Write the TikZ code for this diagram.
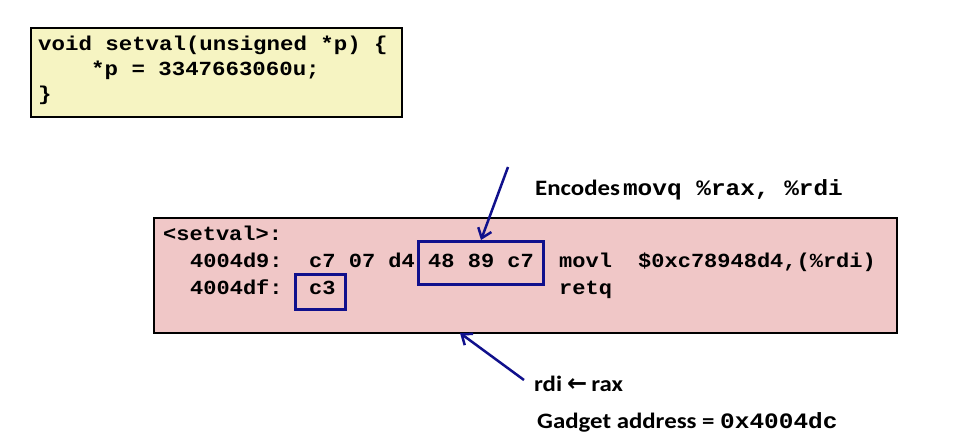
\documentclass[tikz,border=0pt]{standalone}
\usepackage{fontspec}
\usetikzlibrary{arrows.meta}
\newfontfamily\cmono{Liberation Mono}[FakeStretch=1.12]
\newfontfamily\pmono{Liberation Mono}[FakeStretch=1.1]
\newfontfamily\lmono{Liberation Mono}[FakeStretch=1.11]
\newfontfamily\lab{Carlito}[FakeStretch=1.13]
\newfontfamily\arw{DejaVu Sans}
\definecolor{codeyellow}{RGB}{246,244,194}
\definecolor{codepink}{RGB}{240,199,199}
\definecolor{navy}{RGB}{16,16,140}
\tikzset{
  codebox/.style={draw=black, line width=2pt, anchor=north west, inner sep=0pt},
  hilite/.style={draw=navy, line width=3pt, anchor=north west, inner sep=0pt},
  ctext/.style={anchor=base west, inner sep=0pt, font=\cmono\bfseries\fontsize{20}{24}\selectfont},
  ptext/.style={anchor=base west, inner sep=0pt, font=\pmono\bfseries\fontsize{20}{24}\selectfont},
  ltext/.style={anchor=base west, inner sep=0pt, font=\lab\bfseries\fontsize{22}{26}\selectfont},
  pointer/.style={draw=navy, line width=2.5pt, -{Straight Barb[length=9pt,width=14pt,line width=2.5pt]}},
}
\begin{document}
\begin{tikzpicture}[x=1pt,y=-1pt]
\fill[white] (0,0) rectangle (962,444);
\useasboundingbox (0,0) rectangle (962,444);
% C code box
\node[codebox, fill=codeyellow, minimum width=371pt, minimum height=89pt] (cbox) at (30,27) {};
\node[ctext] (c1) at (38,50.5) {void setval(unsigned *p) \{};
\node[ctext] (c2) at (91,76) {*p = 3347663060u;};
\node[ctext] (c3) at (38,101) {\}};
% disassembly box
\node[codebox, fill=codepink, minimum width=743pt, minimum height=115pt] (dbox) at (153,217) {};
\node[ptext] (d0) at (163,240) {<setval>:};
\node[ptext] (a1) at (190,267) {4004d9:};
\node[ptext] (b1) at (309,267) {c7 07 d4};
\node[ptext] (g1) at (428,267) {48 89 c7};
\node[ptext] (m1) at (559,267) {movl};
\node[ptext] (o1) at (638,267) {\$0xc78948d4,(\%rdi)};
\node[ptext] (a2) at (190,294) {4004df:};
\node[ptext] (b2) at (309,294) {c3};
\node[ptext] (m2) at (559,294) {retq};
% highlight boxes
\node[hilite, minimum width=125pt, minimum height=43pt] (hl1) at (417,240) {};
\node[hilite, minimum width=50pt, minimum height=35pt] (hl2) at (294,273) {};
% labels
\node[ltext] (enc) at (535,195) {Encodes\hspace{3pt}{\lmono\fontsize{22}{26}\selectfont movq \%rax, \%rdi}};
\node[ltext] (rr) at (534,391) {rdi\hspace{5pt}{\arw\bfseries\fontsize{24}{28}\selectfont ←}\hspace{4pt}rax};
\node[ltext] (gad) at (537,428) {Gadget address = {\lmono\fontsize{22}{26}\selectfont 0x4004dc}};
% pointers
\coordinate (t1) at (508,167);
\coordinate (t2) at (524,380);
\coordinate (h2) at (460,333);
\draw[pointer] (t1) -- (hl1.north);
\draw[pointer] (t2) -- (h2);
\end{tikzpicture}
\end{document}
